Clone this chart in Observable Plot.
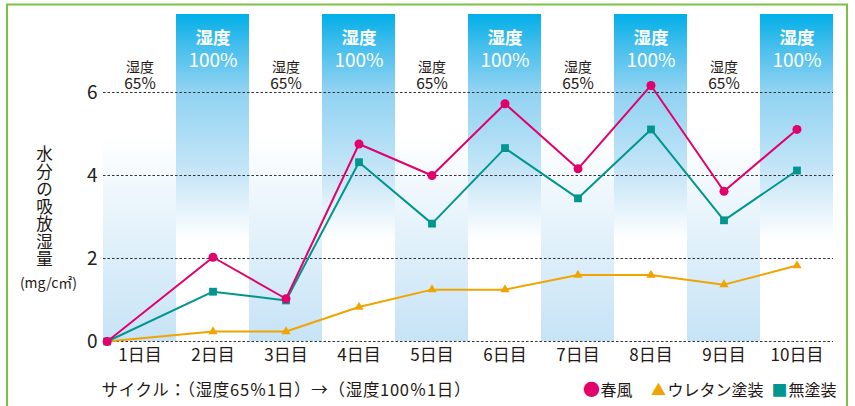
<!DOCTYPE html>
<html><head><meta charset="utf-8">
<script src="https://cdn.jsdelivr.net/npm/d3@7"></script>
<script src="https://cdn.jsdelivr.net/npm/@observablehq/plot@0.6"></script>
<style>body{margin:0;background:#fff} svg{display:block}</style>
</head><body><div id="chart"></div>
<script>
const dayLabels = ["1日目","2日目","3日目","4日目","5日目","6日目","7日目","8日目","9日目","10日目"];
const dayIndex = [1,2,3,4,5,6,7,8,9,10];
const humidity = [65,100,65,100,65,100,65,100,65,100];
const xPos = [0.55,2,3,4,5,6,7,8,9,10];
const harukaze = [0,2.03,1.03,4.76,4.0,5.73,4.16,6.17,3.62,5.11];
const urethane = [0,0.24,0.24,0.83,1.25,1.25,1.6,1.6,1.37,1.83];
const mutoso   = [0,1.2,0.99,4.32,2.84,4.66,3.45,5.11,2.92,4.12];
const yTicks = [0,2,4,6];
const seriesNames = ["春風","ウレタン塗装","無塗装"];
const colors = {"春風":"#e2006b","ウレタン塗装":"#f0a400","無塗装":"#00968f"};
const caption = "サイクル：（湿度65％1日）→（湿度100％1日）";
const yTitle = "水分の吸放湿量";
const yUnit = "(mg/c㎡)";

const pts = (vals) => vals.map((v,i)=>({x:xPos[i], y:v}));
const bands = dayIndex.map((d,i)=>({day:d, h:humidity[i]}));
const b100 = bands.filter(b=>b.h===100);
const b65 = bands.filter(b=>b.h===65);

const FONT = "'Noto Sans CJK JP', 'Noto Sans', sans-serif";
const INK = "#231815";

const defsMark = () => {
  const g = d3.create("svg:g");
  const defs = g.append("defs");
  const g1 = defs.append("linearGradient").attr("id","g100").attr("x1",0).attr("y1",0).attr("x2",0).attr("y2",1);
  [[0,"#00afe9"],[0.09,"#40bdec"],[0.23,"#8fd2f2"],[0.35,"#a8dbf5"],[0.52,"#cfe9f8"],[0.69,"#ffffff"],[1,"#ffffff"]]
    .forEach(([o,c])=>g1.append("stop").attr("offset",o).attr("stop-color",c));
  const g2 = defs.append("linearGradient").attr("id","g65").attr("x1",0).attr("y1",0).attr("x2",0).attr("y2",1);
  [[0,"#ffffff"],[1,"#c6e3f6"]].forEach(([o,c])=>g2.append("stop").attr("offset",o).attr("stop-color",c));
  return g.node();
};
const borderMark = () => {
  const g = d3.create("svg:rect").attr("x",7).attr("y",4.5).attr("width",840).attr("height",420)
    .attr("fill","none").attr("stroke","#7cc142").attr("stroke-width",2);
  return g.node();
};

const legendText = (t, dx, opts) => Plot.text([t], {text: d=>d, frameAnchor: "bottom-left", dx, dy: 49, lineAnchor: "middle", ...opts});

const chart = Plot.plot({
  width: 855, height: 406,
  marginLeft: 103, marginRight: 22, marginTop: 14, marginBottom: 65,
  x: {domain: [0.5, 10.5], axis: null},
  y: {domain: [0, 6], range: [341, 92], axis: null},
  style: {fontFamily: FONT, background: "#fff", overflow: "visible"},
  marks: [
    defsMark,
    Plot.rect(b100, {x1: d=>d.day-0.5, x2: d=>d.day+0.5, fill: "url(#g100)"}),
    Plot.rect(b65, {x1: d=>d.day-0.5, x2: d=>d.day+0.5, y1: 0, y2: 5, fill: "url(#g65)"}),
    Plot.ruleY(yTicks, {stroke: "#333", strokeWidth: 1, strokeDasharray: "2.5,2"}),
    Plot.text(yTicks, {y: d=>d, text: d=>String(d), frameAnchor: "left", dx: -6, textAnchor: "end", lineAnchor: "middle", fontSize: 19, fill: "#222"}),
    Plot.text(dayIndex, {x: d=>d, text: d=>dayLabels[d-1], frameAnchor: "bottom", dy: 14, lineAnchor: "middle", fontSize: 17, fill: INK}),
    Plot.text(b65, {x: "day", text: ()=>"湿度", frameAnchor: "top", dy: 53.5, lineAnchor: "middle", fontSize: 14, fill: INK}),
    Plot.text(b65, {x: "day", text: d=>d.h+"%", frameAnchor: "top", dy: 69.5, lineAnchor: "middle", fontSize: 15.5, fill: INK}),
    Plot.text(b100, {x: "day", text: ()=>"湿度", frameAnchor: "top", dy: 24, lineAnchor: "middle", fontSize: 17.5, fontWeight: "bold", fill: "#fff"}),
    Plot.text(b100, {x: "day", text: d=>d.h+"%", frameAnchor: "top", dy: 46, lineAnchor: "middle", fontSize: 19, fill: "#fff"}),
    Plot.text([yTitle], {text: d=>d.split("").join("\n"), frameAnchor: "left", dx: -59, dy: 29, textAnchor: "middle", lineAnchor: "middle", lineHeight: 1.06, fontSize: 16.5, fill: INK}),
    Plot.text([yUnit], {text: d=>d, frameAnchor: "left", dx: -55, dy: 105.5, textAnchor: "middle", lineAnchor: "middle", fontSize: 14, fill: INK}),
    Plot.text([caption], {text: d=>d, frameAnchor: "bottom-left", dx: -2, dy: 49, textAnchor: "start", lineAnchor: "middle", fontSize: 16.5, fill: INK}),
    // series
    Plot.line(pts(urethane), {x: "x", y: "y", stroke: colors["ウレタン塗装"], strokeWidth: 2}),
    Plot.dot(pts(urethane), {x: "x", y: "y", symbol: "triangle", r: 3.4, fill: colors["ウレタン塗装"]}),
    Plot.line(pts(mutoso), {x: "x", y: "y", stroke: colors["無塗装"], strokeWidth: 2}),
    Plot.dot(pts(mutoso), {x: "x", y: "y", symbol: "square", r: 4.4, fill: colors["無塗装"]}),
    Plot.line(pts(harukaze), {x: "x", y: "y", stroke: colors["春風"], strokeWidth: 2}),
    Plot.dot(pts(harukaze), {x: "x", y: "y", symbol: "circle", r: 4.5, fill: colors["春風"]}),
    // legend
    legendText("●", 488, {textAnchor: "middle", fontSize: 17, fill: colors["春風"]}),
    legendText(seriesNames[0], 497, {textAnchor: "start", fontSize: 16, fill: INK}),
    legendText("▲", 555, {textAnchor: "middle", fontSize: 15, fill: colors["ウレタン塗装"]}),
    legendText(seriesNames[1], 564, {textAnchor: "start", fontSize: 16, fill: INK}),
    legendText("■", 676, {textAnchor: "middle", fontSize: 16, fill: colors["無塗装"]}),
    legendText(seriesNames[2], 685, {textAnchor: "start", fontSize: 16, fill: INK}),
    borderMark
  ]
});
d3.select(chart).selectAll("text").filter(function(){ return this.textContent === caption; })
  .attr("textLength", 369).attr("lengthAdjust", "spacing");
document.getElementById("chart").appendChild(chart);
</script>
</body></html>
